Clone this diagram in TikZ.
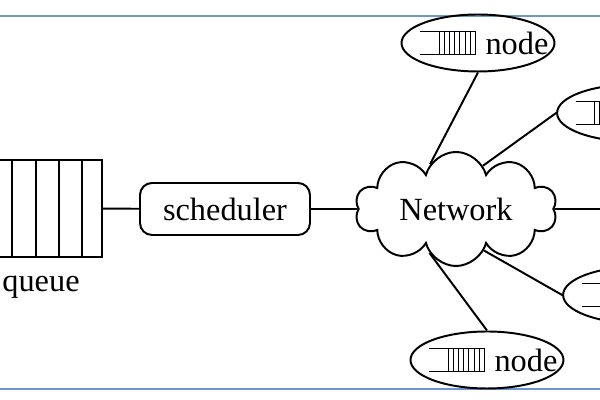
\documentclass[tikz,border=0pt]{standalone}
\usepackage{fontspec}
\setmainfont{Liberation Serif}
\usepackage{tikz}
\usetikzlibrary{positioning}
\usetikzlibrary{shapes.geometric,shapes.symbols}

\definecolor{frameblue}{RGB}{110,150,205}

\begin{document}
\begin{tikzpicture}[line width=1.4pt,
    every node/.style={font=\fontsize{23}{27}\selectfont},
    hostbox/.style={draw, ellipse, minimum width=3.825cm, minimum height=1.425cm, inner sep=0pt,
      path picture={
        \draw[line width=0.7pt] ([xshift=-1.45cm,yshift=0.29cm]path picture bounding box.center)
          -- ++(1.375,0) -- ++(0,-0.58) -- ++(-1.375,0);
        \foreach \k in {0,...,6}
          \draw[line width=0.7pt] ([xshift=-0.975cm+\k*0.13cm,yshift=0.29cm]path picture bounding box.center) -- ++(0,-0.58);
      }},
    host/.style={hostbox, label={[xshift=0.975cm]center:node}}]
            \useasboundingbox (0,0) rectangle (15,10);
            \clip (0,0) rectangle (15,10);

            % Marco
            \draw[frameblue, line width=1pt] (0,9.6) -- (15,9.6);
            \draw[frameblue, line width=1pt] (0,0.275) -- (15,0.275);

            % Nodos
            \node[draw, minimum width=3.05cm, minimum height=2.425cm, inner sep=0pt] (queue) at (1.025,4.7875) {};
            \foreach \x in {0.3,0.9,1.475,2.05}
              \draw (\x,0 |- queue.north) -- (\x,0 |- queue.south);
            \node[below=0.3cm of queue] (qname) {queue};
            \node[draw, rounded corners=0.3cm, minimum width=4.25cm, minimum height=1.3cm] (sched) at (5.625,4.775) {scheduler};
            \node[draw, cloud, cloud puffs=10, shape border rotate=18, aspect=2, minimum width=5.05cm, minimum height=2.45cm, inner sep=0pt] (net) at (11.4,4.775) {Network};
            \node[host] (top) at (11.95,8.925) {};
            \node[hostbox] (rtop) at (15.84,7.175) {};
            \node[hostbox] (rbot) at (15.99,2.625) {};
            \node[host] (bottom) at (12.175,1.0) {};
            \coordinate (farright) at (15.5,4.775);

            % Aristas
            \draw (queue) -- (sched);
            \draw (sched) -- (net);
            \draw (net.120) -- (top.south);
            \draw (net.58) -- (rtop.west);
            \draw (net.east) -- (farright);
            \draw (net.304) -- (rbot.west);
            \draw (net.239) -- (bottom.north);
\end{tikzpicture}
\end{document}
